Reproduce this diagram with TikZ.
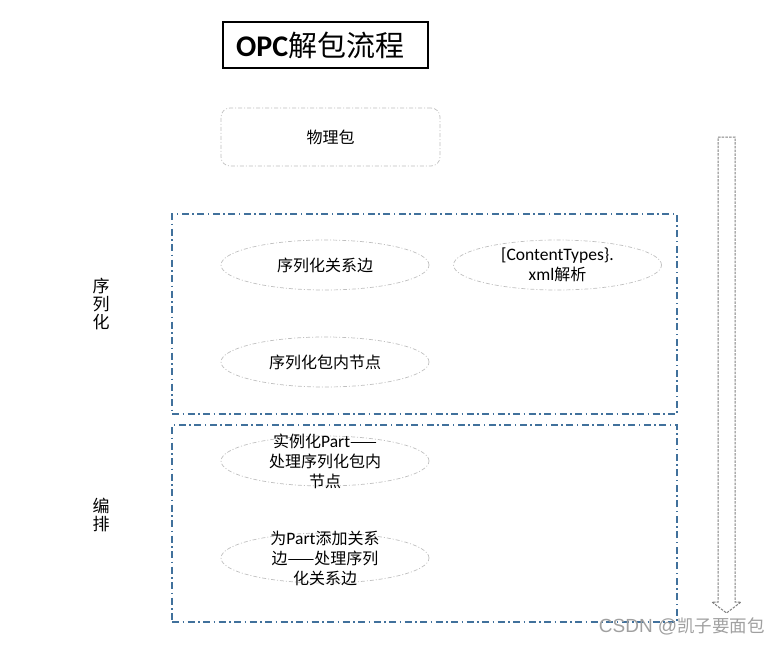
\documentclass[tikz,border=0pt]{standalone}
\usepackage{fontspec}
\setmainfont{Noto Sans CJK SC}
\newfontfamily\lat{Carlito}
\newfontfamily\ari{Liberation Sans}
\usetikzlibrary{shapes.geometric}
\definecolor{frameblue}{HTML}{41719C}
\definecolor{lightgray}{HTML}{BFBFBF}
\definecolor{arrowgray}{HTML}{7F7F7F}
\definecolor{wmgray}{HTML}{A0A0A0}
\newcommand{\tightlines}{\lineskiplimit=-30pt\lineskip=0pt}
\newcommand{\lt}[1]{{\lat\fontsize{17.5pt}{20pt}\selectfont #1}}
\tikzset{
  framebox/.style={draw=frameblue, line width=1.3pt, dash pattern=on 7pt off 3.5pt on 1.5pt off 3.5pt},
  ellbox/.style={ellipse, draw=lightgray, line width=0.7pt, dash pattern=on 4pt off 2pt on 1pt off 2pt, minimum width=208pt, minimum height=50pt, inner sep=0pt},
  etext/.style={font=\fontsize{16pt}{20pt}\selectfont\tightlines, align=center, text width=150pt, inner sep=0pt},
  rbox/.style={draw=lightgray, line width=0.7pt, rounded corners=9pt, dash pattern=on 4pt off 2pt on 1pt off 2pt, minimum width=219pt, minimum height=58pt},
  sidelabel/.style={font=\fontsize{17pt}{18pt}\selectfont\tightlines, align=center, inner sep=0pt},
  arrowline/.style={draw=arrowgray, line width=1pt, dash pattern=on 2.5pt off 1.2pt},
}
\begin{document}
\begin{tikzpicture}[x=1pt,y=-1pt]
\useasboundingbox (0,0) rectangle (781,645);
% title
\node[draw=black, line width=1.5pt, minimum width=205pt, minimum height=46pt, inner sep=0pt] (titlebox) at (325.5,45) {};
\node[anchor=west, inner sep=0pt, font=\fontsize{29pt}{30pt}\selectfont] (title) at (236,45) {{\lat\bfseries\fontsize{30pt}{30pt}\selectfont OPC}解包流程};
% physical package
\node[rbox, font=\fontsize{16pt}{18pt}\selectfont] (phys) at (330.5,137) {物理包};
% frames
\node[framebox, minimum width=505pt, minimum height=200pt, inner sep=0pt] (serial) at (424.5,314) {};
\node[framebox, minimum width=505pt, minimum height=197pt, inner sep=0pt] (arrange) at (424.5,523.5) {};
% ellipses
\node[ellbox] (e1) at (325,265) {};
\node[etext] (t1) at (e1.center) {序列化关系边};
\node[ellbox] (e2) at (557.5,265) {};
\node[etext] (t2) at (e2.center) {\lt{[ContentTypes\}.}\\\lt{xml}解析};
\node[ellbox] (e3) at (325,362) {};
\node[etext] (t3) at (e3.center) {序列化包内节点};
\node[ellbox] (e4) at (325,461) {};
\node[etext] (t4) at (e4.center) {实例化\lt{Part}——\\处理序列化包内\\节点};
\node[ellbox] (e5) at (325,558) {};
\node[etext] (t5) at (e5.center) {为\lt{Part}添加关系\\边——处理序列\\化关系边};
% side labels
\node[sidelabel] (l1) at (101,304) {序\\列\\化};
\node[sidelabel] (l2) at (101,515) {编\\排};
% down arrow (block arrow outline)
\coordinate (a1) at (718,137);
\coordinate (a2) at (735,137);
\coordinate (a3) at (735,602);
\coordinate (a4) at (741,602);
\coordinate (tip) at (726.5,613);
\coordinate (a6) at (712,602);
\coordinate (a7) at (718,602);
\draw[arrowline] (a1) -- (a2) -- (a3) -- (a4) -- (tip) -- (a6) -- (a7) -- cycle;
% watermark
\node[font=\fontsize{17.5pt}{18pt}\selectfont, text=wmgray, anchor=east, inner sep=0pt] (wm) at (765,626) {{\ari\fontsize{19pt}{19pt}\selectfont CSDN @}凯子要面包};
\end{tikzpicture}
\end{document}
